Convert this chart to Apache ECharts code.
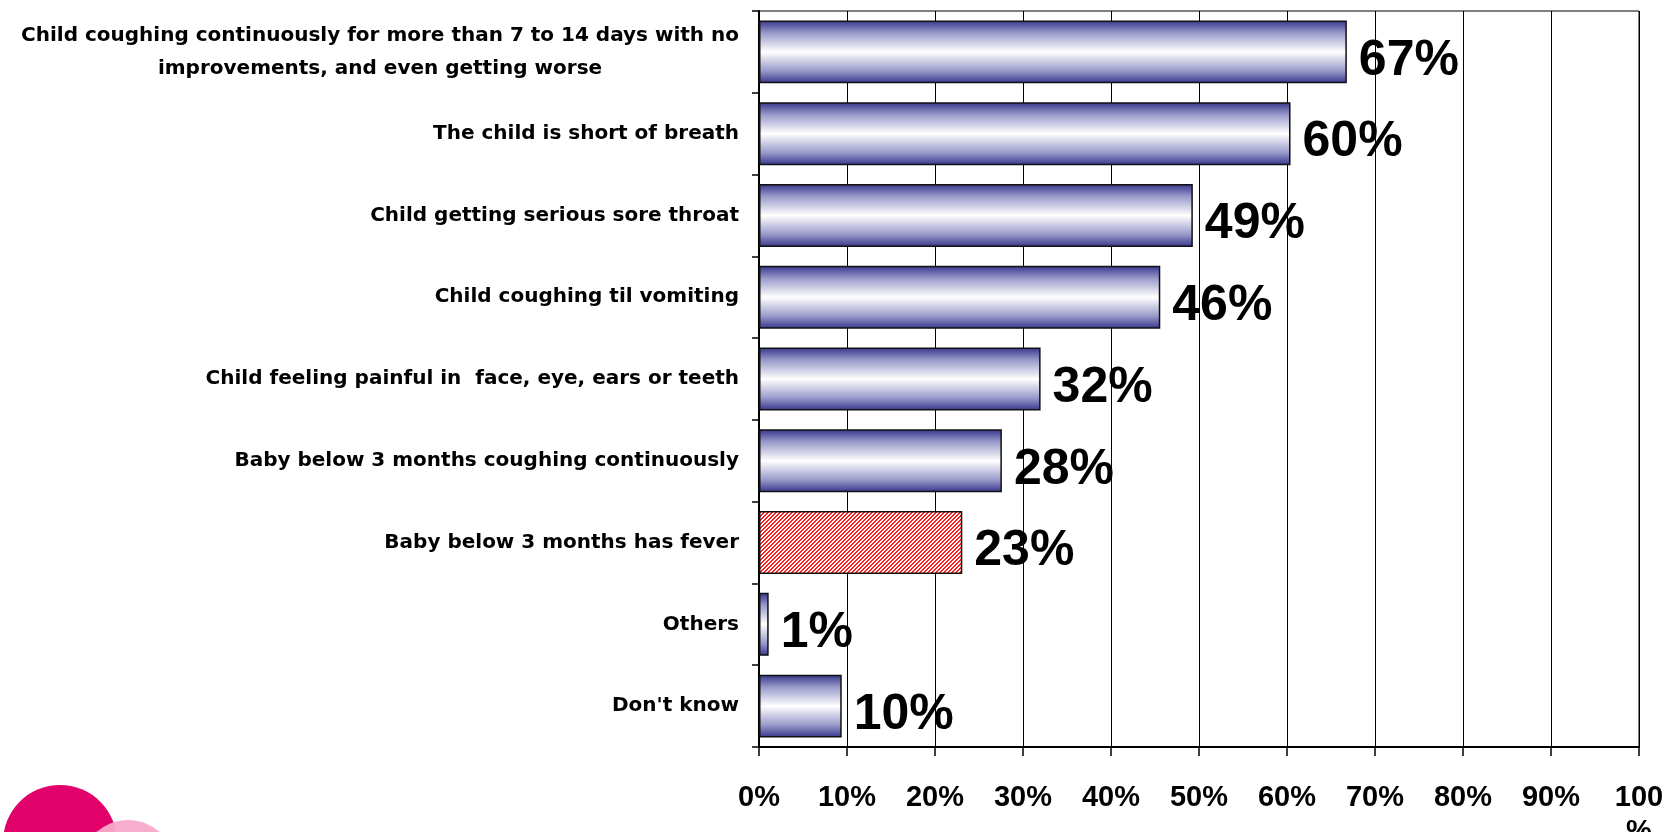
<!DOCTYPE html>
<html>
<head>
<meta charset="utf-8">
<script src="https://cdn.jsdelivr.net/npm/echarts@6/dist/echarts.min.js"></script>
<style>
  html, body { margin: 0; padding: 0; background: #fff; }
  #chart { width: 1675px; height: 832px; }
</style>
</head>
<body>
<div id="chart"></div>
<script>
// 数据
var categories = [
  "Child coughing continuously for more than 7 to 14 days with no\nimprovements, and even getting worse",
  "The child is short of breath",
  "Child getting serious sore throat",
  "Child coughing til vomiting",
  "Child feeling painful in  face, eye, ears or teeth",
  "Baby below 3 months coughing continuously",
  "Baby below 3 months has fever",
  "Others",
  "Don't know"
];
var values = [66.8, 60.4, 49.3, 45.6, 32.0, 27.6, 23.1, 1.1, 9.4];
var valueLabels = ["67%", "60%", "49%", "46%", "32%", "28%", "23%", "1%", "10%"];
var highlightIndex = 6;
var xTicks = [0, 10, 20, 30, 40, 50, 60, 70, 80, 90, 100];

// 红色斜线填充
function hatch() {
  var c = document.createElement("canvas");
  c.width = 4;
  c.height = 4;
  var ctx = c.getContext("2d");
  ctx.fillStyle = "#ffffff";
  ctx.fillRect(0, 0, 4, 4);
  ctx.fillStyle = "#ff1a1a";
  for (var i = 0; i < 4; i++) {
    ctx.fillRect(i, 3 - i, 1, 1);
    ctx.fillRect(i, (4 - i) % 4, 1, 1);
  }
  return c;
}

var blueFill = {
  type: "linear", x: 0, y: 0, x2: 0, y2: 1,
  colorStops: [
    { offset: 0, color: "#34348a" },
    { offset: 0.2, color: "#9a9acb" },
    { offset: 0.5, color: "#ffffff" },
    { offset: 0.8, color: "#9a9acb" },
    { offset: 1, color: "#34348a" }
  ]
};

var barData = values.map(function (v, i) {
  return {
    value: v,
    itemStyle: { color: i === highlightIndex ? { image: hatch(), repeat: "repeat" } : blueFill }
  };
});

var myChart = echarts.init(document.getElementById("chart"));
myChart.setOption({
  backgroundColor: "#fff",
  animation: false,
  grid: {
    left: 759,
    right: 36,
    top: 11,
    bottom: 85,
    outerBoundsMode: "none",
    containLabel: false,
    show: true,
    borderColor: "#000",
    borderWidth: 1
  },
  xAxis: {
    type: "value",
    min: 0,
    max: 100,
    interval: 10,
    axisLine: { show: true, lineStyle: { color: "#000", width: 2 } },
    axisTick: { show: true, length: 9, lineStyle: { color: "#000", width: 1.5 } },
    splitLine: { show: true, lineStyle: { color: "#000", width: 1 } },
    axisLabel: {
      margin: 34,
      fontFamily: "Liberation Sans",
      fontWeight: "bold",
      fontSize: 29,
      lineHeight: 34,
      color: "#000",
      formatter: function (v) {
        return v === xTicks[xTicks.length - 1] ? v + "\n%" : v + "%";
      }
    }
  },
  yAxis: {
    type: "category",
    inverse: true,
    data: categories,
    axisLine: { show: true, lineStyle: { color: "#000", width: 2 } },
    axisTick: { show: true, length: 7, lineStyle: { color: "#000", width: 1.5 } },
    splitLine: { show: false },
    axisLabel: {
      margin: 20,
      color: "#000",
      formatter: function (v) {
        return v.split("\n").map(function (l) { return "{c|" + l + "}"; }).join("\n");
      },
      rich: {
        c: {
          fontFamily: "DejaVu Sans",
          fontWeight: "bold",
          fontSize: 20,
          lineHeight: 33,
          color: "#000",
          align: "center"
        }
      }
    }
  },
  graphic: [
    { type: "circle", shape: { cx: 60, cy: 842, r: 57 }, style: { fill: "#e2006b" }, silent: true },
    { type: "circle", shape: { cx: 128, cy: 868, r: 48 }, style: { fill: "#f7a9c9", opacity: 0.95 }, silent: true }
  ],
  series: [
    {
      type: "bar",
      data: barData,
      barCategoryGap: "23%",
      itemStyle: { borderColor: "#111", borderWidth: 1.5 },
      label: {
        show: true,
        position: "right",
        distance: 12,
        offset: [0, 9],
        fontFamily: "Liberation Sans",
        fontWeight: "bold",
        fontSize: 50,
        color: "#000",
        formatter: function (p) {
          return valueLabels[p.dataIndex];
        }
      }
    }
  ]
});
</script>
</body>
</html>
